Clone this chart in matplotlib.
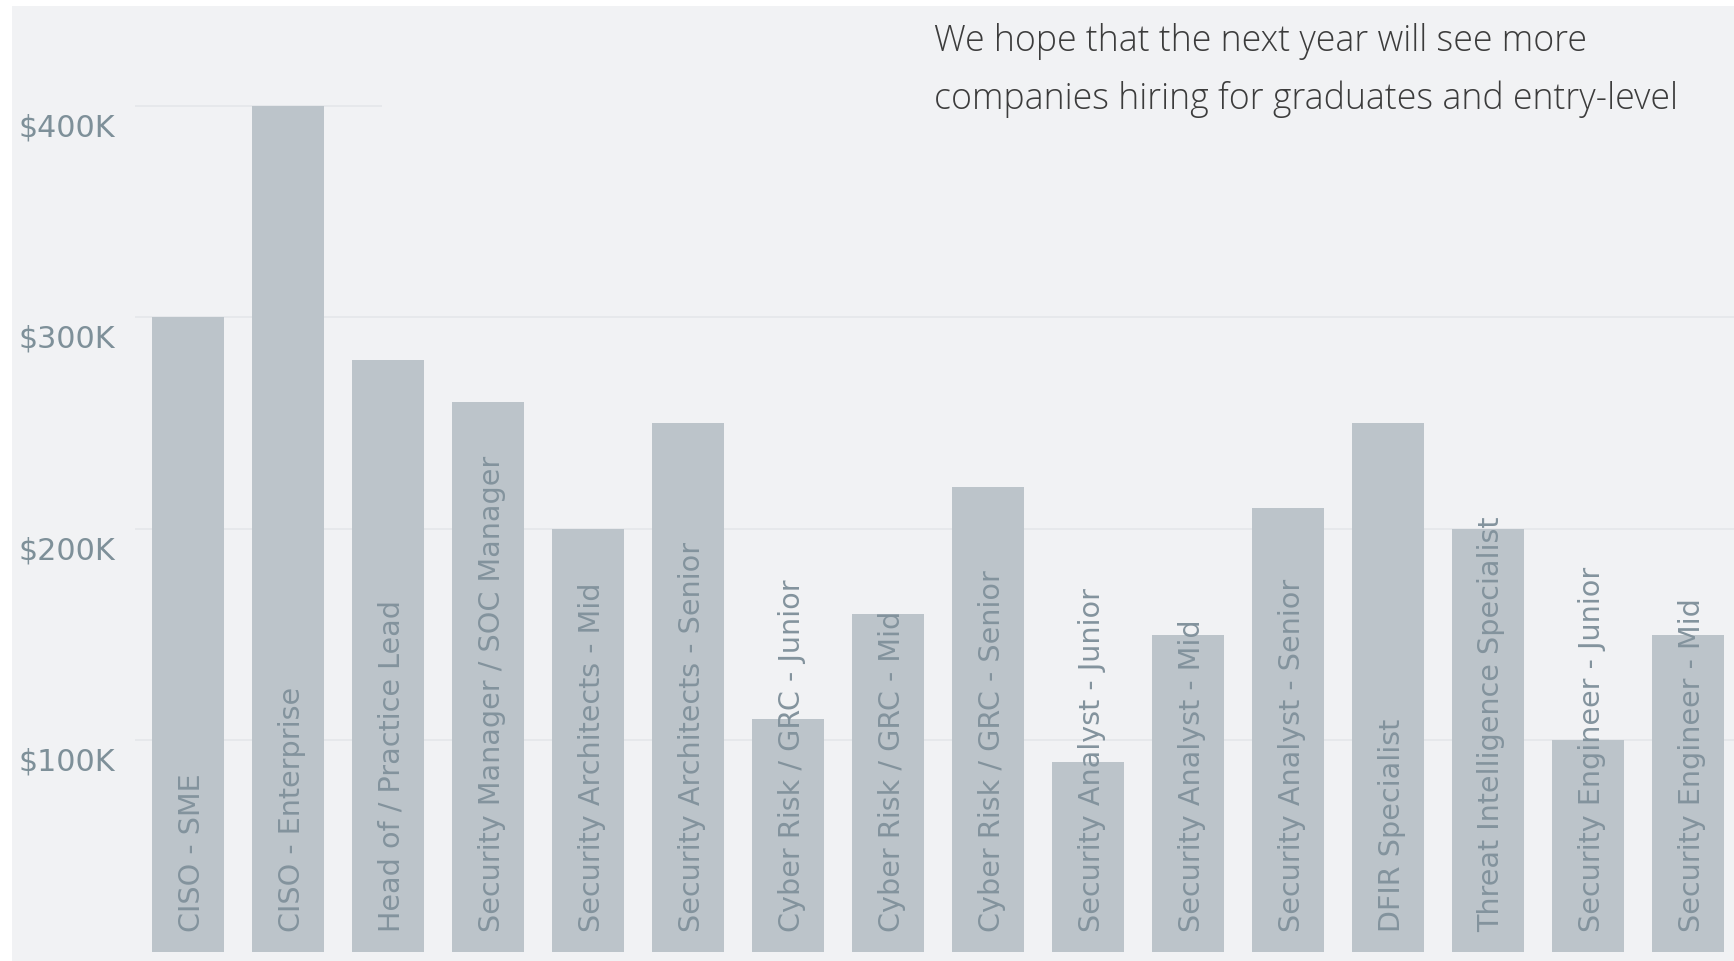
import matplotlib.pyplot as plt
import matplotlib.transforms as mtransforms
from matplotlib.patches import Rectangle

roles = [
    "CISO - SME",
    "CISO - Enterprise",
    "Head of / Practice Lead",
    "Security Manager / SOC Manager",
    "Security Architects - Mid",
    "Security Architects - Senior",
    "Cyber Risk / GRC - Junior",
    "Cyber Risk / GRC - Mid",
    "Cyber Risk / GRC - Senior",
    "Security Analyst - Junior",
    "Security Analyst - Mid",
    "Security Analyst - Senior",
    "DFIR Specialist",
    "Threat Intelligence Specialist",
    "Security Engineer - Junior",
    "Security Engineer - Mid",
]
salaries = [300000, 400000, 280000, 260000, 200000, 250000, 110000, 160000,
            220000, 90000, 150000, 210000, 250000, 200000, 100000, 150000]
tick_values = [100000, 200000, 300000, 400000]
tick_labels = ["$100K", "$200K", "$300K", "$400K"]
note_lines = ["We hope that the next year will see more",
              "companies hiring for graduates and entry-level"]

BG = "#F1F2F4"
BAR = "#BCC4CA"
LABEL = "#83939D"
TICK = "#7E9099"
GRID = "#E4E7EA"

W, H = 1734, 962
fig = plt.figure(figsize=(W / 100, H / 100), dpi=100)
fig.patch.set_facecolor("white")
# grey canvas with thin white margin on top/left
fig.patches.append(Rectangle((12 / W, 0), 1, (H - 7) / H, transform=fig.transFigure,
                             facecolor=BG, edgecolor="none", zorder=-10))

ax = fig.add_axes([135 / W, 9 / H, (W - 135) / W, 952 / H])
ax.set_facecolor("none")
x = list(range(len(roles)))
ax.bar(x, salaries, width=0.72, color=BAR, zorder=2)

ax.set_xlim(-0.525, 15.465)
ax.set_ylim(0, 450000)
ax.set_xticks([])
ax.set_yticks(tick_values)
ax.set_yticklabels(tick_labels)
ax.tick_params(axis="y", length=0, pad=14.4, labelsize=21.7, labelcolor=TICK)
offset = mtransforms.ScaledTranslation(0, -18 / 100, fig.dpi_scale_trans)
for lab in ax.get_yticklabels():
    lab.set_transform(lab.get_transform() + offset)
for s in ax.spines.values():
    s.set_visible(False)
ax.grid(axis="y", color=GRID, linewidth=1.2, zorder=0)
ax.set_axisbelow(True)

label_tr = mtransforms.offset_copy(ax.transData, fig=fig, x=4, y=21, units="dots")
for xi, role in zip(x, roles):
    ax.text(xi, 0, role, rotation=90, ha="center", va="bottom", fontsize=20.6,
            color=LABEL, transform=label_tr, zorder=3)

# note box covering the top gridline
fig.patches.append(Rectangle((382 / W, (H - 120) / H), 1, 113 / H, transform=fig.transFigure,
                             facecolor=BG, edgecolor="none", zorder=5))
fig.text(934 / W, 1 - 42 / H, note_lines[0], ha="left", va="center", fontsize=25.7,
         family="Open Sans", fontweight="light", color="#3C3C3C", zorder=6)
fig.text(934 / W, 1 - 99 / H, note_lines[1], ha="left", va="center", fontsize=25.7,
         family="Open Sans", fontweight="light", color="#3C3C3C", zorder=6)

fig.savefig("out.png", dpi=100, facecolor=fig.get_facecolor())
